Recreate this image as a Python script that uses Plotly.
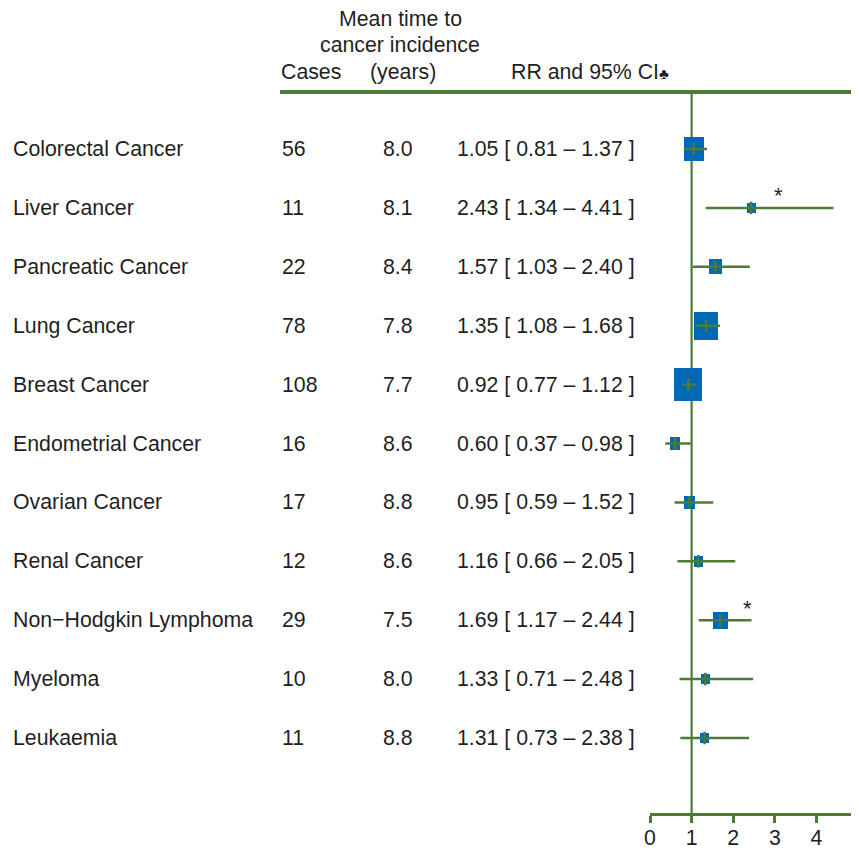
import math
import plotly.graph_objects as go

# ---------------- data ----------------
cancers = ["Colorectal Cancer", "Liver Cancer", "Pancreatic Cancer", "Lung Cancer",
           "Breast Cancer", "Endometrial Cancer", "Ovarian Cancer", "Renal Cancer",
           "Non\u2212Hodgkin Lymphoma", "Myeloma", "Leukaemia"]
cases = [56, 11, 22, 78, 108, 16, 17, 12, 29, 10, 11]
mean_time = [8.0, 8.1, 8.4, 7.8, 7.7, 8.6, 8.8, 8.6, 7.5, 8.0, 8.8]
rr = [1.05, 2.43, 1.57, 1.35, 0.92, 0.60, 0.95, 1.16, 1.69, 1.33, 1.31]
ci_low = [0.81, 1.34, 1.03, 1.08, 0.77, 0.37, 0.59, 0.66, 1.17, 0.71, 0.73]
ci_high = [1.37, 4.41, 2.40, 1.68, 1.12, 0.98, 1.52, 2.05, 2.44, 2.48, 2.38]
significant = [False, True, False, False, False, False, False, False, True, False, False]
x_ticks = [0, 1, 2, 3, 4, 5]

# ---------------- layout constants (window pixels) ----------------
OFF = 8                           # default page body margin
W, H = 859 - OFF, 851 - OFF
X0_PX, X5_PX = 650, 858           # window pixel of x=0 and x=5
ROW1_PX, ROW_STEP = 149, 58.9      # centre of first row and spacing
TOP_PX, BOT_PX = 92, 813           # header rule / axis line
ppx = (X5_PX - X0_PX) / 5.0
ppy = ROW_STEP

GREEN = "#4b7b36"
BLUE = "#0068b4"
TXT = "#1f1f1f"
FONT = "Liberation Sans, Arial, sans-serif"
FS = 21.3

rows = list(range(1, len(cancers) + 1))
y_top = 1 - (ROW1_PX - TOP_PX) / ppy
y_bot = 1 + (BOT_PX - ROW1_PX) / ppy

# box size proportional to 1/SE (inverse log-CI width)
box_w_px = [10.6 / math.log(h / l) for l, h in zip(ci_low, ci_high)]
box_h_px = [w * 1.17 for w in box_w_px]


def px2paper(px):
    return (px - OFF) / W


def py2paper(py):
    return 1 - (py - OFF) / H


fig = go.Figure()

# boxes
fig.add_trace(go.Bar(
    x=rr,
    y=[h / ppy for h in box_h_px],
    base=[r - h / ppy / 2 for r, h in zip(rows, box_h_px)],
    width=[w / ppx for w in box_w_px],
    marker=dict(color=BLUE, line=dict(width=0)),
    hoverinfo="skip", showlegend=False,
))

# confidence interval lines
ci_x, ci_y = [], []
for r, l, h in zip(rows, ci_low, ci_high):
    ci_x += [l, h, None]
    ci_y += [r, r, None]
fig.add_trace(go.Scatter(x=ci_x, y=ci_y, mode="lines",
                         line=dict(color=GREEN, width=2.5),
                         hoverinfo="skip", showlegend=False))

# point estimate tick
fig.add_trace(go.Scatter(x=rr, y=rows, mode="markers",
                         marker=dict(symbol="line-ns", size=9,
                                     line=dict(color=GREEN, width=2.5)),
                         hoverinfo="skip", showlegend=False))

annotations = []

for r, name, c, t, v, l, h, s in zip(rows, cancers, cases, mean_time, rr,
                                       ci_low, ci_high, significant):
    common = dict(yref="y", y=r, xref="paper", showarrow=False,
                  xanchor="left", yanchor="middle",
                  font=dict(family=FONT, size=FS, color=TXT))
    annotations.append(dict(text=name, x=px2paper(11), **common))
    annotations.append(dict(text=str(c), x=px2paper(280), **common))
    annotations.append(dict(text=f"{t:.1f}", x=px2paper(381), **common))
    annotations.append(dict(text=f"{v:.2f} [ {l:.2f} \u2013 {h:.2f} ]",
                            x=px2paper(455), **common))
    if s:
        annotations.append(dict(text="*", x=v, xref="x", y=r, yref="y",
                                xshift=27, yshift=12, showarrow=False,
                                font=dict(family=FONT, size=22, color=TXT)))

# header
hdr = dict(showarrow=False, xref="paper", yref="paper",
           font=dict(family=FONT, size=FS, color=TXT))
annotations.append(dict(text="Mean time to", x=px2paper(400), y=py2paper(19),
                        xanchor="center", yanchor="middle", **hdr))
annotations.append(dict(text="cancer incidence", x=px2paper(400), y=py2paper(45),
                        xanchor="center", yanchor="middle", **hdr))
annotations.append(dict(text="(years)", x=px2paper(403), y=py2paper(72),
                        xanchor="center", yanchor="middle", **hdr))
annotations.append(dict(text="Cases", x=px2paper(279), y=py2paper(72),
                        xanchor="left", yanchor="middle", **hdr))
annotations.append(dict(text="RR and 95% CI<span style='font-size:15px'>\u2663</span>",
                        x=px2paper(509), y=py2paper(72),
                        xanchor="left", yanchor="middle", **hdr))

shapes = [
    dict(type="line", xref="paper", yref="paper",
         x0=px2paper(280), x1=1, y0=py2paper(TOP_PX), y1=py2paper(TOP_PX),
         line=dict(color=GREEN, width=4), layer="below"),
    dict(type="line", xref="x", yref="y", x0=1, x1=1, y0=y_top, y1=y_bot,
         line=dict(color=GREEN, width=2.2), layer="below"),
]

fig.update_layout(
    width=W, height=H,
    margin=dict(l=0, r=0, t=0, b=0, pad=0),
    paper_bgcolor="white", plot_bgcolor="white",
    showlegend=False,
    annotations=annotations, shapes=shapes,
    xaxis=dict(domain=[px2paper(X0_PX), px2paper(X5_PX)], range=[0, 5],
               tickvals=x_ticks, ticktext=[str(v) for v in x_ticks],
               showline=True, linecolor=GREEN, linewidth=2.5,
               ticks="outside", ticklen=7, tickwidth=2.5, tickcolor=GREEN,
               ticklabeloverflow="allow", ticklabelstandoff=-3,
               showgrid=False, zeroline=False, automargin=False,
               tickfont=dict(family=FONT, size=FS, color=TXT),
               fixedrange=True),
    yaxis=dict(domain=[py2paper(BOT_PX), py2paper(TOP_PX)],
               range=[y_bot, y_top], visible=False, showgrid=False,
               zeroline=False, automargin=False, fixedrange=True),
    bargap=0,
)

fig.write_html("out.html")
